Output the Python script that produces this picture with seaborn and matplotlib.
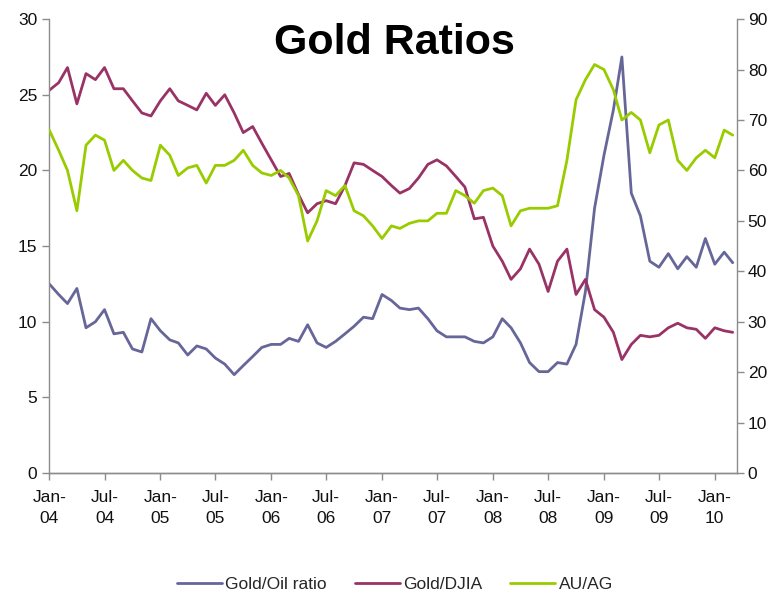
import matplotlib

matplotlib.use("Agg")

import matplotlib.pyplot as plt
import matplotlib.dates as mdates
import pandas as pd
import seaborn as sns

# monthly readings, Jan-2004 .. Mar-2010
months = pd.date_range("2004-01-01", "2010-03-01", freq="MS")

gold_oil = [
    12.5, 11.8, 11.2, 12.2, 9.6, 10.0, 10.8, 9.2, 9.3, 8.2, 8.0, 10.2,
    9.4, 8.8, 8.6, 7.8, 8.4, 8.2, 7.6, 7.2, 6.5, 7.1, 7.7, 8.3,
    8.5, 8.5, 8.9, 8.7, 9.8, 8.6, 8.3, 8.7, 9.2, 9.7, 10.3, 10.2,
    11.8, 11.4, 10.9, 10.8, 10.9, 10.2, 9.4, 9.0, 9.0, 9.0, 8.7, 8.6,
    9.0, 10.2, 9.6, 8.6, 7.3, 6.7, 6.7, 7.3, 7.2, 8.5, 12.0, 17.5,
    21.0, 24.0, 27.5, 18.5, 17.0, 14.0, 13.6, 14.5, 13.5, 14.3, 13.6, 15.5,
    13.8, 14.6, 13.9,
]

gold_djia = [
    25.3, 25.8, 26.8, 24.4, 26.4, 26.0, 26.8, 25.4, 25.4, 24.6, 23.8, 23.6,
    24.6, 25.4, 24.6, 24.3, 24.0, 25.1, 24.3, 25.0, 23.8, 22.5, 22.9, 21.8,
    20.7, 19.6, 19.8, 18.4, 17.2, 17.8, 18.0, 17.8, 19.0, 20.5, 20.4, 20.0,
    19.6, 19.0, 18.5, 18.8, 19.5, 20.4, 20.7, 20.3, 19.6, 18.9, 16.8, 16.9,
    15.0, 14.0, 12.8, 13.5, 14.8, 13.8, 12.0, 14.0, 14.8, 11.8, 12.8, 10.8,
    10.3, 9.3, 7.5, 8.5, 9.1, 9.0, 9.1, 9.6, 9.9, 9.6, 9.5, 8.9,
    9.6, 9.4, 9.3,
]

au_ag = [
    68, 64, 60, 52, 65, 67, 66, 60, 62, 60, 58.5, 58,
    65, 63, 59, 60.5, 61, 57.5, 61, 61, 62, 64, 61, 59.5,
    59, 60, 58.5, 55, 46, 50, 56, 55, 57, 52, 51, 49,
    46.5, 49, 48.5, 49.5, 50, 50, 51.5, 51.5, 56, 55, 53.5, 56,
    56.5, 55, 49, 52, 52.5, 52.5, 52.5, 53, 62, 74, 78, 81,
    80, 76, 70, 71.5, 70, 63.5, 69, 70, 62, 60, 62.5, 64,
    62.5, 68, 67,
]

df = pd.DataFrame({
    "date": months,
    "Gold/Oil ratio": gold_oil,
    "Gold/DJIA": gold_djia,
    "AU/AG": au_ag,
})

sns.set_style("white")
plt.rcParams["font.family"] = ["Liberation Sans", "DejaVu Sans"]

fig = plt.figure(figsize=(7.82, 5.98), dpi=100)
ax = fig.add_axes([0.063, 0.209, 0.879, 0.759])
ax2 = ax.twinx()

sns.lineplot(data=df, x="date", y="Gold/Oil ratio", ax=ax, color="#666699",
             linewidth=2.0, label="Gold/Oil ratio", legend=False)
sns.lineplot(data=df, x="date", y="Gold/DJIA", ax=ax, color="#993366",
             linewidth=2.0, label="Gold/DJIA", legend=False)
sns.lineplot(data=df, x="date", y="AU/AG", ax=ax2, color="#99CC00",
             linewidth=2.0, label="AU/AG", legend=False)

ax.set_ylim(0, 30)
ax2.set_ylim(0, 90)
ax.set_yticks(range(0, 31, 5))
ax2.set_yticks(range(0, 91, 10))
ax.set_xlim(pd.Timestamp("2004-01-01"), pd.Timestamp("2010-03-14"))
ax.xaxis.set_major_locator(mdates.MonthLocator(bymonth=[1, 7]))
ax.xaxis.set_major_formatter(mdates.DateFormatter("%b-\n%y"))

for a in (ax, ax2):
    a.set_xlabel("")
    a.set_ylabel("")
    a.spines["top"].set_visible(False)
    for s in ("left", "right", "bottom"):
        a.spines[s].set_color("#8c8c8c")
        a.spines[s].set_linewidth(1.0)
    a.tick_params(axis="both", which="major", direction="out", length=5,
                  width=1, color="#8c8c8c", labelsize=12.5, labelcolor="#111111")
ax.tick_params(axis="y", left=True, right=False)
ax2.tick_params(axis="y", right=True, left=False, pad=3)
ax.tick_params(axis="x", bottom=True, pad=7)
ax.spines["right"].set_visible(False)
ax2.spines["left"].set_visible(False)

fig.canvas.draw()
for lbl in ax.get_xticklabels():
    lbl.set_linespacing(1.55)

fig.text(0.505, 0.928, "Gold Ratios", ha="center", va="center",
         fontsize=31, fontweight="bold", color="black")

handles = ax.get_lines()[:2] + ax2.get_lines()[:1]
labels = ["Gold/Oil ratio", "Gold/DJIA", "AU/AG"]
fig.legend(handles, labels, loc="center", bbox_to_anchor=(0.505, 0.023), ncol=3,
           frameon=False, fontsize=12.5, handlelength=2.6, handletextpad=0.2,
           columnspacing=1.6)

fig.savefig("out.png", dpi=100)
